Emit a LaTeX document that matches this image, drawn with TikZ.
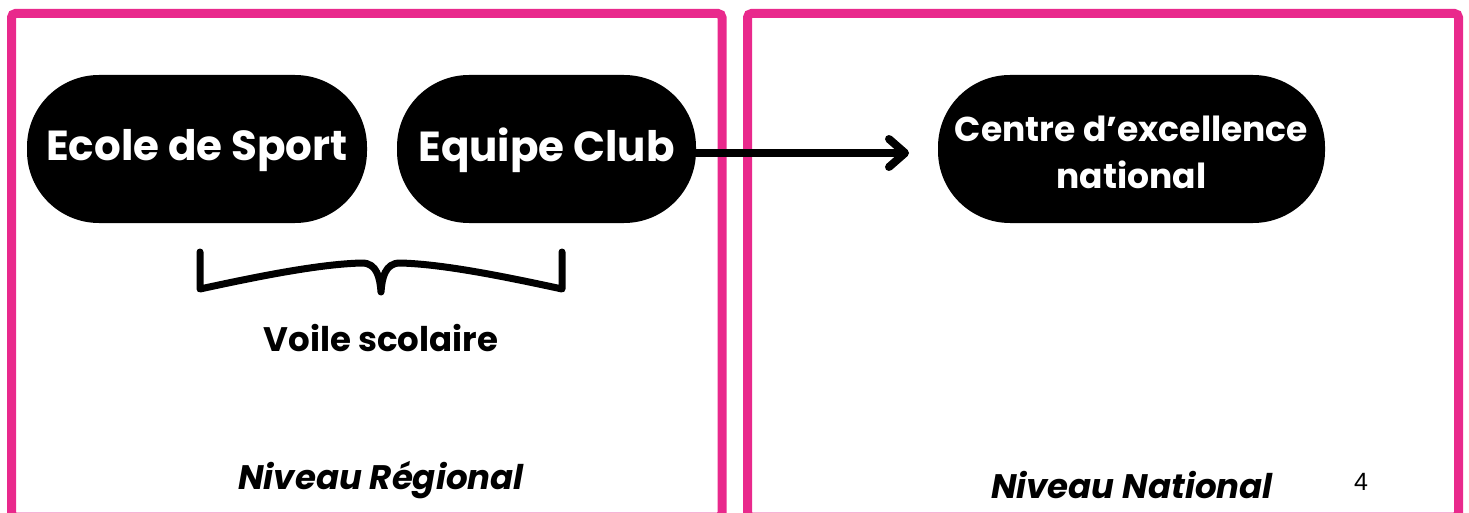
\documentclass[tikz,border=0pt]{standalone}
\usepackage{fontspec}
\setmainfont{Poppins}
\newfontfamily\pagefont{Liberation Sans}
\usetikzlibrary{arrows.meta}
\definecolor{framepink}{RGB}{233,41,140}
\tikzset{
  frame/.style={draw=framepink, line width=9pt, rounded corners=4pt},
  pill/.style={fill=black, text=white, rounded corners=72pt, inner sep=0pt, font=\bfseries},
  label/.style={text=black, inner sep=0pt, align=center},
  connector/.style={line width=8pt, -{Straight Barb[length=16pt, width=28pt, round]}},
  bracestyle/.style={line width=7pt, line cap=round, line join=round},
}
\newcommand{\lowertext}[2]{\raisebox{-#1}[\height][\depth]{#2}}
\begin{document}
\begin{tikzpicture}[x=1pt, y=-1pt]
\useasboundingbox (0,0) rectangle (1469,513);
\clip (0,0) rectangle (1469,513);
% frames
\draw[frame] (11.5,517) -- (11.5,13.5) -- (722,13.5) -- (722,517) -- cycle;
\draw[frame] (747.5,517) -- (747.5,13.5) -- (1458.5,13.5) -- (1458.5,517) -- cycle;
% pills
\node[pill, minimum width=340pt, minimum height=148pt, font=\bfseries\fontsize{42}{50}\selectfont] (ecole) at (197,149) {\lowertext{2pt}{Ecole de Sport}};
\node[pill, minimum width=299pt, minimum height=148pt, font=\bfseries\fontsize{42}{50}\selectfont] (equipe) at (546.5,149) {\lowertext{1pt}{Equipe Club}};
\node[pill, minimum width=387pt, minimum height=148pt, font=\bfseries\fontsize{34.5}{47}\selectfont] (centre) at (1131.5,149) {\lowertext{6.5pt}{\begin{tabular}{@{}c@{}}Centre d’excellence\\national\end{tabular}}};
% arrow
\coordinate (arrowend) at (909,153);
\draw[connector] (equipe.east |- 0,153) -- (arrowend);
% brace
\draw[bracestyle] (200,252) -- (200,289)
  .. controls (260,276) and (320,264) .. (362,263)
  .. controls (377,263) and (380,278) .. (381,292)
  .. controls (382,278) and (385,263) .. (400,263)
  .. controls (442,264) and (502,276) .. (562,289) -- (562,252);
% labels
\node[label, font=\bfseries\fontsize{34}{40}\selectfont] (voile) at (381,338) {Voile scolaire};
\node[label, font=\bfseries\itshape\fontsize{34}{40}\selectfont] (regional) at (381,480) {Niveau Régional};
\node[label, font=\bfseries\itshape\fontsize{34}{40}\selectfont] (national) at (1132,485) {Niveau National};
\node[label, font=\pagefont\fontsize{25}{28}\selectfont] (pagenum) at (1361,482) {4};
\end{tikzpicture}
\end{document}
